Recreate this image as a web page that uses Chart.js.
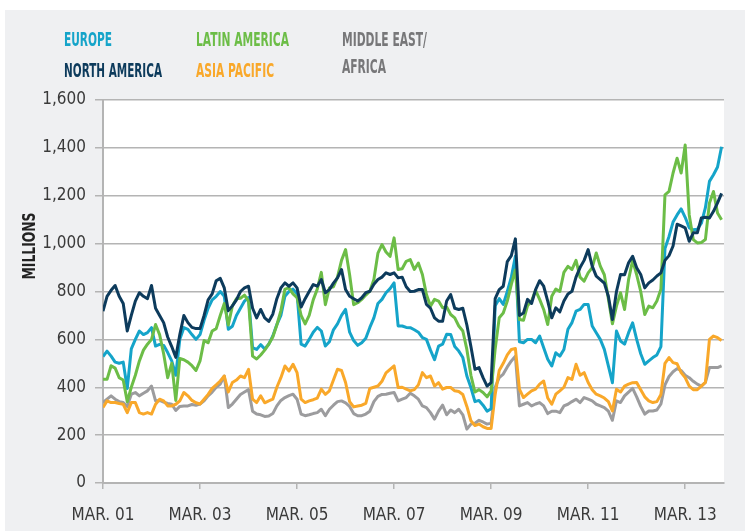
<!DOCTYPE html>
<html>
<head>
<meta charset="utf-8">
<script src="https://cdn.jsdelivr.net/npm/chart.js@4.4.1/dist/chart.umd.min.js"></script>
<style>
  html, body { margin: 0; padding: 0; background: #fff; }
  #panel { position: absolute; left: 5px; top: 10px; width: 740px; height: 521px; background: #eff0f2; }
  #wrap { position: absolute; left: 0; top: 0; width: 745px; height: 531px; }
</style>
</head>
<body>
<div id="panel"></div>
<div id="wrap"><canvas id="chart" width="745" height="531"></canvas></div>
<script>
// monthly values, Mar 2001 .. Dec 2013 (millions)
const tickLabels = ["MAR. 01", "MAR. 03", "MAR. 05", "MAR. 07", "MAR. 09", "MAR. 11", "MAR. 13"];

const northAmerica = [
  718, 780, 805, 825, 780, 750, 635, 700, 760, 795, 780, 770,
  825, 730, 700, 670, 610, 570, 525, 620, 700, 670, 650, 645,
  645, 700, 765, 790, 845, 855, 815, 720, 740, 765, 800, 815,
  822, 730, 690, 725, 690, 675, 705, 770, 815, 836, 822, 836,
  815, 735, 770, 800, 829, 822, 850, 795, 808, 835, 857, 892,
  808, 780, 770, 760, 774, 795, 801, 830, 850, 860, 878, 871,
  878, 857, 860, 820, 800, 801, 808, 808, 746, 730, 690, 676,
  676, 760, 787, 730, 725, 730, 660, 570, 475, 482, 440, 405,
  419, 770, 808, 822, 925, 950, 1020, 700, 710, 767, 750, 808,
  845, 822, 760, 690, 732, 715, 760, 790, 801, 860, 900, 930,
  975, 906, 864, 850, 835, 780, 683, 800, 871, 870, 920, 947,
  899, 871, 815, 836, 848, 865, 878, 930, 950, 990, 1081, 1074,
  1066, 1010, 1045, 1045, 1107, 1110, 1107, 1135, 1170, 1210
];

const europe = [
  528, 551, 530, 505, 500, 505, 395, 560, 600, 635, 620, 628,
  649, 572, 579, 575, 545, 510, 450, 600, 649, 642, 620, 600,
  620, 680, 730, 765, 780, 800, 780, 642, 655, 700, 730, 760,
  775, 565, 558, 578, 560, 580, 614, 662, 700, 780, 800, 810,
  790, 580, 572, 600, 630, 650, 635, 572, 590, 640, 665, 700,
  725, 630, 595, 575, 586, 605, 650, 690, 750, 767, 795, 812,
  836, 656, 656, 650, 649, 640, 630, 607, 600, 555, 515, 572,
  580, 621, 620, 570, 551, 524, 447, 399, 340, 345, 325, 300,
  310, 740, 770, 746, 800, 860, 947, 590, 586, 600, 600, 586,
  614, 565, 517, 489, 544, 530, 558, 642, 670, 718, 725, 746,
  746, 656, 628, 600, 558, 489, 419, 635, 593, 580, 628, 669,
  600, 540, 496, 510, 524, 535, 570, 980, 1030, 1090, 1120, 1145,
  1110, 1066, 1058, 1060, 1085, 1150, 1260, 1288, 1320, 1405
];

const latinAmerica = [
  433, 433, 490, 480, 440, 430, 340, 400, 450, 510, 555, 580,
  600, 662, 620, 540, 440, 500, 345, 520, 515, 505, 490, 470,
  510, 595, 586, 635, 645, 700, 750, 660, 740, 770, 772, 785,
  760, 530, 518, 535, 555, 580, 610, 660, 720, 810, 815, 790,
  774, 700, 665, 700, 765, 810, 880, 745, 815, 820, 860, 930,
  975, 870, 745, 753, 767, 785, 801, 850, 960, 996, 965, 947,
  1024, 892, 895, 926, 933, 892, 919, 871, 787, 739, 767, 760,
  732, 735, 704, 690, 656, 635, 558, 450, 380, 390, 378, 360,
  385, 560, 690, 710, 760, 830, 890, 683, 680, 740, 760, 805,
  767, 725, 662, 780, 810, 800, 880, 905, 892, 930, 860, 843,
  878, 900, 961, 906, 870, 770, 665, 739, 795, 725, 850, 930,
  870, 800, 704, 739, 732, 760, 810, 1204, 1218, 1295, 1357, 1295,
  1412, 1120, 1017, 1003, 1005, 1017, 1170, 1218, 1128, 1100
];

const asiaPacific = [
  315, 343, 336, 336, 332, 329, 294, 336, 336, 294, 288, 294,
  288, 329, 350, 343, 322, 322, 329, 343, 378, 364, 345, 335,
  330, 350, 370, 395, 410, 426, 447, 380, 420, 430, 447, 440,
  475, 350, 336, 364, 335, 343, 350, 400, 440, 489, 468, 496,
  461, 350, 336, 343, 348, 355, 392, 370, 385, 430, 475, 470,
  420, 340, 318, 322, 325, 333, 395, 400, 405, 425, 460, 475,
  489, 399, 400, 392, 385, 390, 410, 461, 440, 447, 405, 419,
  392, 399, 399, 385, 382, 370, 320, 260, 240, 246, 235, 228,
  228, 370, 470, 500, 535, 558, 562, 392, 357, 371, 385, 392,
  413, 426, 355, 329, 371, 385, 400, 440, 433, 496, 450, 461,
  420, 390, 371, 364, 355, 340, 301, 392, 380, 405, 413, 419,
  420, 390, 360, 343, 336, 340, 370, 500, 524, 503, 498, 461,
  440, 405, 390, 390, 405, 420, 600, 614, 607, 595
];

const middleEastAfrica = [
  336, 350, 364, 350, 340, 336, 320, 371, 378, 364, 375, 385,
  405, 343, 345, 338, 332, 329, 303, 320, 322, 322, 328, 325,
  330, 343, 364, 380, 400, 413, 447, 315, 330, 350, 370, 380,
  390, 300, 288, 285, 278, 280, 290, 322, 345, 357, 365, 371,
  350, 288, 281, 285, 290, 294, 308, 281, 308, 325, 340, 343,
  335, 320, 290, 281, 281, 288, 300, 340, 362, 370, 371, 375,
  378, 343, 350, 357, 375, 364, 350, 322, 315, 294, 267, 300,
  325, 285, 305, 294, 308, 285, 225, 246, 250, 262, 255, 246,
  250, 400, 440, 455, 485, 510, 530, 322, 329, 336, 322, 330,
  336, 322, 290, 300, 300, 294, 322, 329, 340, 350, 336, 357,
  350, 343, 329, 322, 315, 300, 262, 343, 336, 364, 380, 395,
  360, 320, 288, 301, 301, 305, 330, 410, 445, 465, 478, 470,
  450, 440, 425, 413, 405, 420, 482, 482, 482, 489
];

const FONT = "'Liberation Sans Narrow', 'DejaVu Sans Condensed', 'Roboto', sans-serif";
const GRID = "#b4b4b4";

// legend + axis title, drawn straight on the canvas
const legendItems = [
  { text: "EUROPE", x: 64, y: 46, w: 48, color: "#15a4c9" },
  { text: "NORTH AMERICA", x: 64, y: 77, w: 98, color: "#0d3b5c" },
  { text: "LATIN AMERICA", x: 196, y: 46, w: 93, color: "#6cbd47" },
  { text: "ASIA PACIFIC", x: 196, y: 77, w: 78, color: "#f9a82a" },
  { text: "MIDDLE EAST/", x: 342, y: 46, w: 85, color: "#777779" },
  { text: "AFRICA", x: 342, y: 72.5, w: 44, color: "#777779" }
];

const decor = {
  id: "decor",
  beforeDraw(chart) {
    const { ctx, chartArea } = chart;
    ctx.save();
    ctx.fillStyle = "#fff";
    ctx.fillRect(chartArea.left, chartArea.top, chartArea.right - chartArea.left, chartArea.bottom - chartArea.top);
    ctx.restore();
  },
  afterDraw(chart) {
    const ctx = chart.ctx;
    ctx.save();
    ctx.textBaseline = "alphabetic";
    ctx.textAlign = "left";
    ctx.font = "bold 20px " + FONT;
    legendItems.forEach((it) => {
      ctx.fillStyle = it.color;
      ctx.fillText(it.text, it.x, it.y, it.w);
    });
    // y axis title
    ctx.translate(35, 246);
    ctx.rotate(-Math.PI / 2);
    ctx.textAlign = "center";
    ctx.font = "bold 18px " + FONT;
    ctx.fillStyle = "#222";
    ctx.fillText("MILLIONS", 0, 0, 67);
    ctx.restore();
  }
};

const toPoints = (arr) => arr.map((v, i) => ({ x: i, y: v }));

const line = (label, arr, color) => ({
  label: label,
  data: toPoints(arr),
  borderColor: color,
  backgroundColor: color,
  borderWidth: 3,
  pointRadius: 0,
  tension: 0,
  borderJoinStyle: "round",
  borderCapStyle: "butt"
});

new Chart(document.getElementById("chart").getContext("2d"), {
  type: "line",
  data: {
    datasets: [
      line("North America", northAmerica, "#0d3b5c"),
      line("Latin America", latinAmerica, "#6cbd47"),
      line("Europe", europe, "#15a4c9"),
      line("Asia Pacific", asiaPacific, "#f9a82a"),
      line("Middle East/Africa", middleEastAfrica, "#9c9c9e")
    ]
  },
  options: {
    responsive: false,
    animation: false,
    layout: { padding: { top: 100, right: 21, bottom: 0, left: 0 } },
    plugins: { legend: { display: false }, tooltip: { enabled: false } },
    scales: {
      x: {
        type: "linear",
        min: 0,
        max: 153.6,
        afterFit: (s) => { s.height = 48; },
        grid: { drawOnChartArea: false, drawTicks: true, tickLength: 6, color: GRID, lineWidth: 1.5 },
        border: { display: true, color: GRID, width: 2 },
        ticks: {
          stepSize: 24,
          includeBounds: false,
          autoSkip: false,
          maxRotation: 0,
          padding: 16,
          color: "#3a3a3a",
          font: { family: FONT, size: 17 },
          callback: (v) => (v % 24 === 0 ? tickLabels[v / 24] : null)
        }
      },
      y: {
        min: 0,
        max: 1600,
        afterFit: (s) => { s.width = 103; },
        grid: { color: GRID, lineWidth: 1.5, tickLength: 8 },
        border: { display: true, color: GRID, width: 2 },
        ticks: {
          stepSize: 200,
          padding: 9,
          color: "#3a3a3a",
          font: { family: FONT, size: 17 },
          callback: (v) => v.toLocaleString("en-US")
        }
      }
    }
  },
  plugins: [decor]
});
</script>
</body>
</html>
